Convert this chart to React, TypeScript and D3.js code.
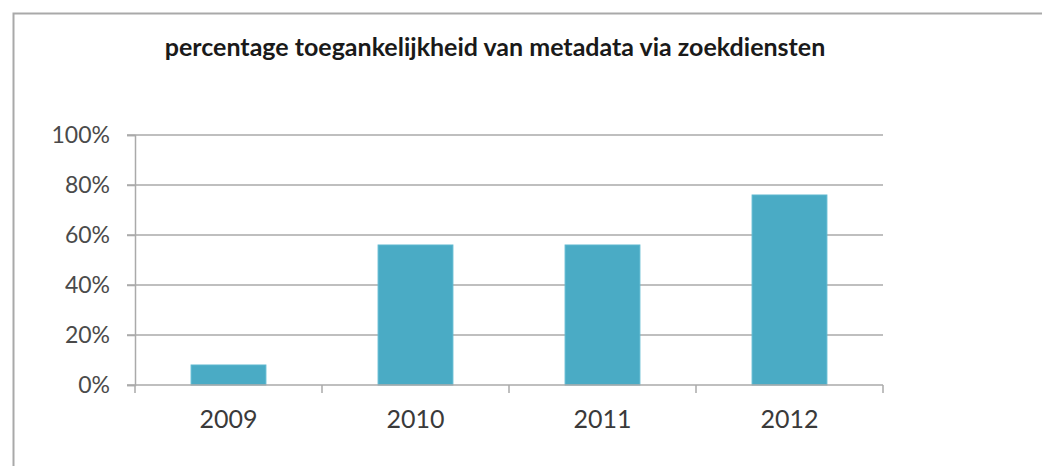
import React, { useEffect, useRef } from 'react';
import * as d3 from 'd3';

const years = ['2009', '2010', '2011', '2012'];
const percentages = [0.08, 0.56, 0.56, 0.76];
const yTicks = [0, 0.2, 0.4, 0.6, 0.8, 1.0];
const title = 'percentage toegankelijkheid van metadata via zoekdiensten';

const App = () => {
    const svgRef = useRef<SVGSVGElement>(null);

    useEffect(() => {
        const svg = d3.select(svgRef.current);
        svg.selectAll('*').remove();

        const width = 1042;
        const height = 466;
        const margin = { top: 135, right: 159, bottom: 81, left: 135 };
        const font = 'Lato, "Open Sans", sans-serif';

        svg.append('rect').attr('width', width).attr('height', height).attr('fill', '#fff');

        // outer frame (only top and left edges visible)
        svg.append('path')
            .attr('d', `M13.5,${height} V13.5 H${width}`)
            .attr('fill', 'none')
            .attr('stroke', '#a9a9a9')
            .attr('stroke-width', 2);

        const x = d3.scaleBand()
            .domain(years)
            .range([margin.left, width - margin.right])
            .paddingInner(0.6)
            .paddingOuter(0.3);

        const y = d3.scaleLinear()
            .domain([0, 1])
            .range([height - margin.bottom, margin.top]);

        // gridlines
        svg.append('g')
            .selectAll('line')
            .data(yTicks.slice(1))
            .enter().append('line')
            .attr('x1', margin.left - 8)
            .attr('x2', width - margin.right)
            .attr('y1', d => y(d))
            .attr('y2', d => y(d))
            .attr('stroke', '#aaaaaa')
            .attr('stroke-width', 1.5);

        // bars
        svg.append('g')
            .selectAll('rect')
            .data(years)
            .enter().append('rect')
            .attr('x', d => x(d)!)
            .attr('width', x.bandwidth())
            .attr('y', (d, i) => y(percentages[i]))
            .attr('height', (d, i) => y(0) - y(percentages[i]))
            .attr('fill', '#4aabc5')
            .attr('stroke', '#5cb8d0')
            .attr('stroke-width', 1);

        // y axis
        const yAxis = svg.append('g')
            .attr('transform', `translate(${margin.left},0)`)
            .call(d3.axisLeft(y).tickValues(yTicks).tickFormat(d3.format('.0%')).tickSize(8).tickPadding(17));
        yAxis.select('.domain').attr('stroke', '#aaaaaa').attr('stroke-width', 1.5);
        yAxis.selectAll('.tick line').attr('stroke', '#aaaaaa').attr('stroke-width', 1.5);
        yAxis.selectAll('.tick text')
            .attr('fill', '#4a4a4a')
            .style('font-family', font)
            .style('font-size', '23px');

        // x axis with ticks at the category boundaries
        const boundaries = d3.range(years.length + 1).map(i => margin.left + i * (width - margin.left - margin.right) / years.length);
        const xAxis = svg.append('g');
        xAxis.append('line')
            .attr('x1', margin.left - 8)
            .attr('x2', width - margin.right)
            .attr('y1', y(0))
            .attr('y2', y(0))
            .attr('stroke', '#aaaaaa')
            .attr('stroke-width', 1.5);
        xAxis.selectAll('.xtick')
            .data(boundaries)
            .enter().append('line')
            .attr('x1', d => d)
            .attr('x2', d => d)
            .attr('y1', y(0))
            .attr('y2', y(0) + 8)
            .attr('stroke', '#aaaaaa')
            .attr('stroke-width', 1.5);
        xAxis.selectAll('text')
            .data(years)
            .enter().append('text')
            .attr('x', d => x(d)! + x.bandwidth() / 2)
            .attr('y', y(0) + 43)
            .attr('text-anchor', 'middle')
            .attr('fill', '#3a3a3a')
            .style('font-family', font)
            .style('font-size', '25px')
            .text(d => d);

        // title
        svg.append('text')
            .attr('x', 495)
            .attr('y', 56)
            .attr('text-anchor', 'middle')
            .attr('fill', '#1a1a1a')
            .style('font-family', font)
            .style('font-weight', 'bold')
            .style('font-size', '25px')
            .text(title);
    }, []);

    return <svg ref={svgRef} width="1042" height="466" style={{ position: 'absolute', left: 0, top: 0 }}></svg>;
};

export default App;
